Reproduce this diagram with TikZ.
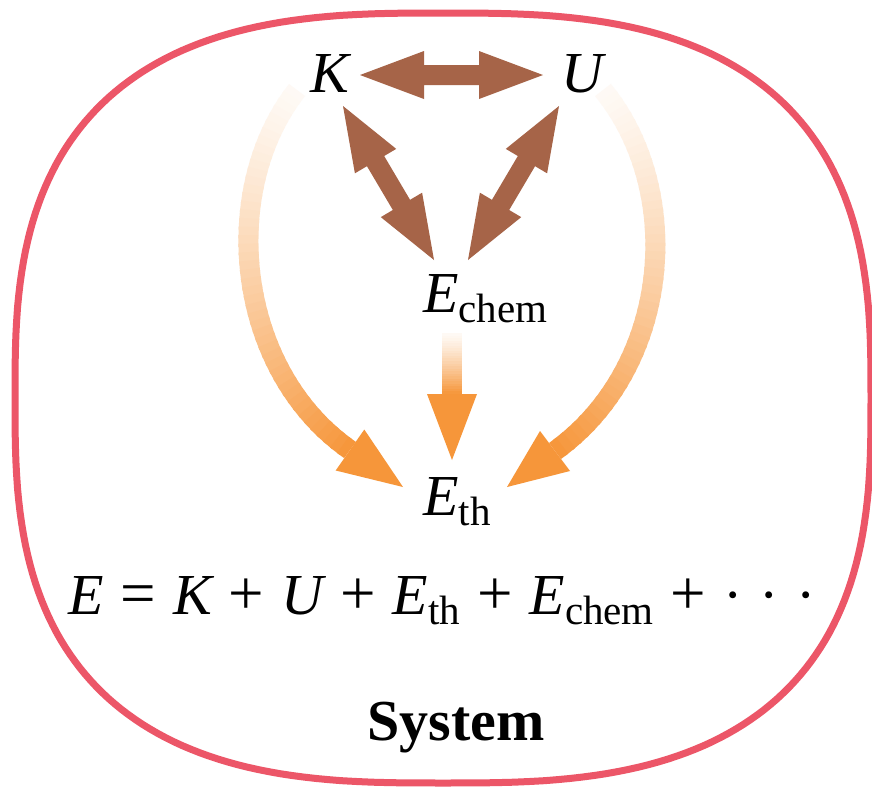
\documentclass[tikz,border=0pt]{standalone}
\usepackage{fontspec}
\setmainfont{Liberation Serif}
\usetikzlibrary{calc}
\definecolor{brownarr}{RGB}{166,100,72}
\definecolor{orangearr}{RGB}{246,150,58}
\definecolor{outlinered}{RGB}{236,86,104}
\newcommand\subtxt[1]{\raisebox{-10pt}{\fontsize{41}{41}\selectfont #1}}
\newcommand\gp{\hspace{17pt}}
\newcommand\op[1]{{\upshape\fontsize{63}{63}\selectfont #1}}
\tikzset{
  lbl/.style={inner sep=0pt, font=\fontsize{58}{60}\selectfont},
  outline/.style={draw=outlinered, line width=7pt},
}
% brown double arrow between two tip coordinates
\newcommand\brownarrow[2]{%
  \coordinate (ha) at ($(#1)!64pt!(#2)$);
  \coordinate (hb) at ($(#2)!64pt!(#1)$);
  \fill[brownarr] (#1) -- ($(ha)!24pt!90:(#2)$) -- ($(ha)!10pt!90:(#2)$)
    -- ($(hb)!10pt!-90:(#1)$) -- ($(hb)!24pt!-90:(#1)$) -- (#2)
    -- ($(hb)!24pt!90:(#1)$) -- ($(hb)!10pt!90:(#1)$)
    -- ($(ha)!10pt!-90:(#2)$) -- ($(ha)!24pt!-90:(#2)$) -- cycle;}
% orange head: base #1, tip #2
\newcommand\orangehead[2]{%
  \fill[orangearr] (#2) -- ($(#1)!25pt!90:(#2)$) -- ($(#1)!25pt!-90:(#2)$) -- cycle;}
% gradient curve shaft
\newcommand\gradcurve[4]{%
  \foreach \i in {0,...,47}{%
    \pgfmathsetmacro\ta{\i/48}%
    \pgfmathsetmacro\tb{min(1,(\i+1.4)/48)}%
    \pgfmathsetmacro\pc{min(100,5+95*pow((\i+0.5)/48,1.3))}%
    \path (#1) .. controls (#2) and (#3) .. (#4) coordinate[pos=\ta] (sa) coordinate[pos=\tb] (sb);
    \draw[line width=20pt, orangearr!\pc!white] (sa) -- (sb);
  }}
\newcommand\gradline[2]{%
  \foreach \i in {0,...,23}{%
    \pgfmathsetmacro\ta{\i/24}%
    \pgfmathsetmacro\tb{min(1,(\i+1.4)/24)}%
    \pgfmathsetmacro\pc{min(100,5+95*pow((\i+0.5)/24,1.3))}%
    \path (#1) -- (#2) coordinate[pos=\ta] (sa) coordinate[pos=\tb] (sb);
    \draw[line width=20pt, orangearr!\pc!white] (sa) -- (sb);
  }}
\begin{document}
\begin{tikzpicture}[x=1pt,y=-1pt]
\useasboundingbox (0,0) rectangle (872,788);
\fill[white] (0,0) rectangle (872,788);
% system outline
\draw[outline] plot[domain=0:360, samples=241]
  ({443+428*sign(cos(\x))*pow(abs(cos(\x))+0.00001,0.714)},
   {398-385*sign(sin(\x))*pow(abs(sin(\x))+0.00001,0.714)}) -- cycle;
% labels
\node[lbl, anchor=base] (K) at (330,92) {\itshape K};
\node[lbl, anchor=base] (U) at (582,92) {\itshape U};
\node[lbl, anchor=base west] (Ec) at (423,312) {\itshape E\upshape\subtxt{chem}};
\node[lbl, anchor=base west] (Et) at (423,515) {\itshape E\upshape\subtxt{th}};
\node[lbl, anchor=base west] (eq) at (68,614)
  {\itshape E\gp\op{=}\gp\itshape K\gp\op{+}\gp\itshape U\gp\op{+}\gp\itshape E\upshape\subtxt{th}\gp\op{+}\gp\itshape E\upshape\subtxt{chem}\gp\op{+}\gp·\gp·\gp·};
\node[lbl, anchor=base, font=\fontsize{58}{60}\selectfont\bfseries] (sys) at (456,740) {System};
% brown arrows
\coordinate (kuA) at (360,75);
\coordinate (kuB) at (543,75);
\coordinate (keA) at (343,106);
\coordinate (keB) at (434,260);
\coordinate (ueA) at (559,106);
\coordinate (ueB) at (468,260);
\brownarrow{kuA}{kuB}
\brownarrow{keA}{keB}
\brownarrow{ueA}{ueB}
% orange arrows
\coordinate (kS) at (297,90);
\coordinate (k1) at (218,190);
\coordinate (k2) at (235,370);
\coordinate (kB) at (350,450);
\coordinate (kT) at (403,487);
\coordinate (uS) at (603,90);
\coordinate (u1) at (685,190);
\coordinate (u2) at (672,367);
\coordinate (uB) at (555,451);
\coordinate (uT) at (507,487);
\coordinate (eS) at (452,333);
\coordinate (eB) at (452,394);
\coordinate (eT) at (452,460);
\gradcurve{kS}{k1}{k2}{kB}
\orangehead{kB}{kT}
\gradcurve{uS}{u1}{u2}{uB}
\orangehead{uB}{uT}
\gradline{eS}{eB}
\orangehead{eB}{eT}
\end{tikzpicture}
\end{document}
